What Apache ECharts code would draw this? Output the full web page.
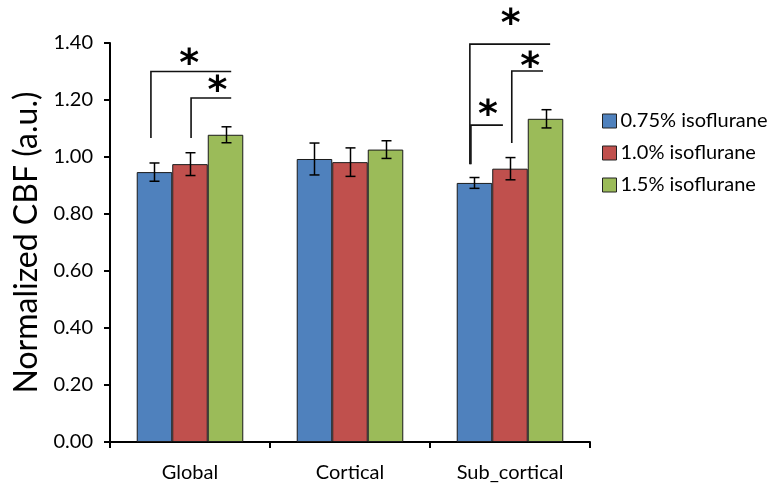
<!DOCTYPE html>
<html><head><meta charset="utf-8">
<script src="https://cdn.jsdelivr.net/npm/echarts@6/dist/echarts.min.js"></script>
<style>html,body{margin:0;padding:0;background:#fff}#c{width:779px;height:491px}</style>
</head><body><div id="c"></div>
<script>
const categories = ['Global', 'Cortical', 'Sub_cortical'];
const seriesNames = ['0.75% isoflurane', '1.0% isoflurane', '1.5% isoflurane'];
const values075 = [0.947, 0.993, 0.909];
const values10  = [0.975, 0.982, 0.959];
const values15  = [1.078, 1.026, 1.134];
const err075 = [0.032, 0.056, 0.019];
const err10  = [0.040, 0.050, 0.039];
const err15  = [0.028, 0.031, 0.032];
const yTicks = [0, 0.2, 0.4, 0.6, 0.8, 1.0, 1.2, 1.4];
// significance brackets: [category, startSlot, endSlot, bottom value, top value]
const brackets = [
  [0, 0.40, 2.66, 1.067, 1.300],
  [0, 1.53, 2.66, 1.067, 1.207],
  [2, 0.37, 2.63, 0.975, 1.396],
  [2, 1.55, 2.43, 1.049, 1.302],
  [2, 0.40, 1.30, 0.975, 1.112]
];
// asterisks: [category, slot, value]
const stars = [
  [0, 1.48, 1.322],
  [0, 2.27, 1.227],
  [2, 1.52, 1.462],
  [2, 2.07, 1.312],
  [2, 0.88, 1.142]
];

const colors = ['#4F81BD', '#C0504D', '#9BBB59'];
const values = [values075, values10, values15];
const errs = [err075, err10, err15];
const GAP = 0.334;

const chart = echarts.init(document.getElementById('c'));
const font = 'Lato, "Open Sans", sans-serif';

function groupGeom(api, cat) {
  const c = api.coord([cat, 0]);
  const band = api.size([1, 0])[0];
  const gw = band * (1 - GAP);
  return { left: c[0] - gw / 2, bw: gw / 3 };
}

const series = [];
values.forEach((v, i) => {
  series.push({
    name: seriesNames[i], type: 'bar', data: v, barGap: '0%', barCategoryGap: (GAP * 100) + '%',
    itemStyle: { color: colors[i], borderColor: '#1a1a1a', borderWidth: 1 },
    z: 2
  });
});
values.forEach((v, i) => {
  series.push({
    type: 'custom', silent: true, z: 5,
    data: v.map((val, k) => [k, val, errs[i][k]]),
    renderItem: function (params, api) {
      const cat = api.value(0), val = api.value(1), e = api.value(2);
      const g = groupGeom(api, cat);
      const x = Math.round(g.left + g.bw * (i + 0.5)) + 0.5;
      const hi = api.coord([cat, val + e])[1];
      const lo = api.coord([cat, val - e])[1];
      const cap = 5;
      const st = { stroke: '#000', lineWidth: 1.5 };
      return { type: 'group', children: [
        { type: 'line', shape: { x1: x, y1: hi, x2: x, y2: lo }, style: st },
        { type: 'line', shape: { x1: x - cap, y1: hi, x2: x + cap, y2: hi }, style: st },
        { type: 'line', shape: { x1: x - cap, y1: lo, x2: x + cap, y2: lo }, style: st }
      ]};
    }
  });
});
series.push({
  type: 'custom', silent: true, z: 6, clip: false,
  data: brackets,
  renderItem: function (params, api) {
    const cat = api.value(0);
    const g = groupGeom(api, cat);
    const x1 = g.left + g.bw * api.value(1);
    const x2 = g.left + g.bw * api.value(2);
    const yb = api.coord([cat, api.value(3)])[1];
    const yt = api.coord([cat, api.value(4)])[1];
    return { type: 'polyline', shape: { points: [[x1, yb], [x1, yt], [x2, yt]] },
      style: { stroke: '#111', lineWidth: 1.6, fill: null } };
  }
});
series.push({
  type: 'custom', silent: true, z: 6, clip: false,
  data: stars,
  renderItem: function (params, api) {
    const cat = api.value(0);
    const g = groupGeom(api, cat);
    const x = g.left + g.bw * api.value(1);
    const y = api.coord([cat, api.value(2)])[1];
    return { type: 'text', x: x, y: y, style: { text: '*', fontSize: 38, fontWeight: 'bold',
      fontFamily: 'DejaVu Sans', fill: '#000', align: 'center', verticalAlign: 'middle' } };
  }
});

chart.setOption({
  animation: false,
  backgroundColor: '#fff',
  grid: { left: 110, right: 189, top: 43, bottom: 49, containLabel: false },
  legend: {
    orient: 'vertical', left: 602, top: 111, padding: 0, itemWidth: 14, itemHeight: 14, itemGap: 12,
    icon: 'rect', data: seriesNames,
    itemStyle: { borderColor: '#222', borderWidth: 1 },
    textStyle: { fontSize: 20, fontFamily: font, color: '#000', padding: [0, 0, 0, -1] }
  },
  xAxis: {
    type: 'category', data: categories,
    axisLine: { lineStyle: { color: '#000', width: 2 } },
    axisTick: { show: true, length: 6, alignWithLabel: false, lineStyle: { color: '#000', width: 2 } },
    axisLabel: { fontSize: 20, fontFamily: font, color: '#000', margin: 21 }
  },
  yAxis: {
    type: 'value', min: 0, max: 1.4, interval: 0.2,
    name: 'Normalized CBF (a.u.)', nameLocation: 'middle', nameGap: 66,
    nameTextStyle: { fontSize: 32, fontFamily: font, color: '#000' },
    axisLine: { show: true, lineStyle: { color: '#000', width: 2 } },
    axisTick: { show: true, length: 6, lineStyle: { color: '#000', width: 2 } },
    splitLine: { show: false },
    axisLabel: { fontSize: 20, fontFamily: font, color: '#000', margin: 17,
      formatter: v => yTicks.some(t => Math.abs(t - v) < 1e-9) ? v.toFixed(2) : '' }
  },
  series: series
});
</script></body></html>
